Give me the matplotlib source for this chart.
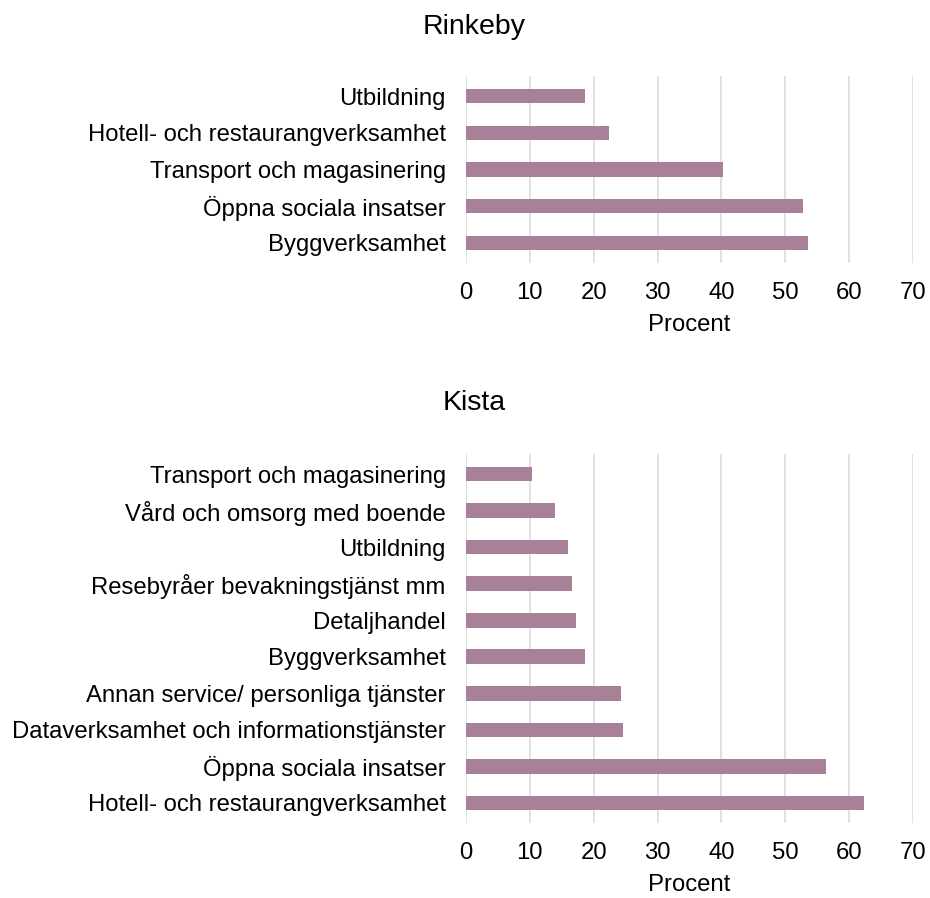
import matplotlib
matplotlib.use("Agg")
import matplotlib.pyplot as plt

plt.rcParams['font.family'] = ['Liberation Sans', 'DejaVu Sans']

rinkeby_labels = [
    "Utbildning",
    "Hotell- och restaurangverksamhet",
    "Transport och magasinering",
    "Öppna sociala insatser",
    "Byggverksamhet",
]
rinkeby_values = [18.7, 22.4, 40.2, 52.8, 53.5]

kista_labels = [
    "Transport och magasinering",
    "Vård och omsorg med boende",
    "Utbildning",
    "Resebyråer bevakningstjänst mm",
    "Detaljhandel",
    "Byggverksamhet",
    "Annan service/ personliga tjänster",
    "Dataverksamhet och informationstjänster",
    "Öppna sociala insatser",
    "Hotell- och restaurangverksamhet",
]
kista_values = [10.4, 14.0, 15.9, 16.6, 17.3, 18.6, 24.2, 24.6, 56.4, 62.4]

x_ticks = [0, 10, 20, 30, 40, 50, 60, 70]

BAR_COLOR = "#a88097"
GRID_COLOR = "#d9d9d9"
W, H = 930, 898

fig = plt.figure(figsize=(W / 100, H / 100), dpi=100)


def panel(rect_px, labels, values, title, title_y):
    left, top, right, bottom = rect_px
    ax = fig.add_axes([left / W, 1 - bottom / H, (right - left) / W, (bottom - top) / H])
    ypos = list(range(len(labels)))
    ax.barh(ypos, values, height=0.4, color=BAR_COLOR, zorder=3)
    ax.set_yticks(ypos)
    ax.set_yticklabels(labels)
    ax.set_ylim(len(labels) - 0.5 + 0.05, -0.55)
    ax.set_xlim(0, 70)
    ax.set_xticks(x_ticks)
    ax.set_xticklabels([str(t) for t in x_ticks])
    for s in ax.spines.values():
        s.set_visible(False)
    ax.tick_params(axis='both', length=0, labelsize=17.2, colors='black')
    ax.tick_params(axis='x', pad=14)
    ax.tick_params(axis='y', pad=14.5)
    ax.xaxis.grid(True, color=GRID_COLOR, linewidth=1.1, zorder=0)
    ax.set_axisbelow(True)
    ax.set_xlabel("Procent", fontsize=17.2, labelpad=7)
    fig.text(474 / W, 1 - title_y / H, title, ha='center', va='center', fontsize=20.5)
    return ax


panel((466, 76, 913, 263), rinkeby_labels, rinkeby_values, "Rinkeby", 27)
panel((466, 454, 913, 823), kista_labels, kista_values, "Kista", 403)

fig.savefig("out.png", dpi=100, facecolor="white")
